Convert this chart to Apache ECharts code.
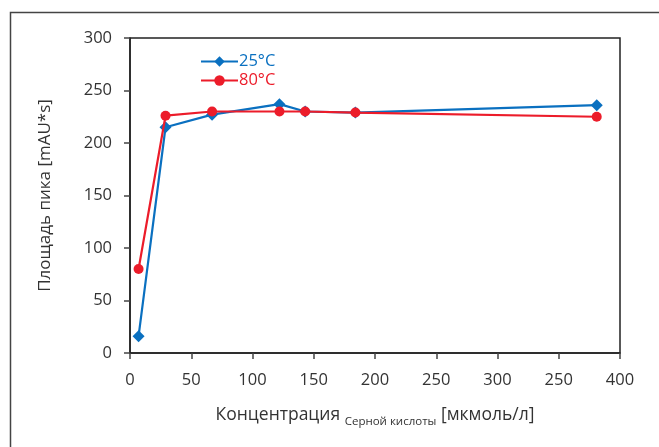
<!DOCTYPE html>
<html>
<head>
<meta charset="utf-8">
<script src="https://cdn.jsdelivr.net/npm/echarts@6/dist/echarts.min.js"></script>
<style>
  html, body { margin: 0; padding: 0; background: #fff; }
  #chart { width: 659px; height: 447px; }
</style>
</head>
<body>
<div id="chart"></div>
<script>
// концентрация серной кислоты, мкмоль/л
var conc25 = [7, 29, 67, 122, 143, 184, 381];
var area25 = [16, 215, 227, 237, 230, 229, 236];
var conc80 = [7, 29, 67, 122, 143, 184, 381];
var area80 = [80, 226, 230, 230, 230, 229, 225];
// подписи оси X как в оригинале (с опечаткой "250" вместо 350)
var xTickLabels = ["0", "50", "100", "150", "200", "250", "300", "250", "400"];

var blue = "#0a70c0";
var red = "#ec1c2a";
var font = "Open Sans";

function pairs(xs, ys) {
  var out = [];
  for (var i = 0; i < xs.length; i++) out.push([xs[i], ys[i]]);
  return out;
}

var myChart = echarts.init(document.getElementById("chart"));
myChart.setOption({
  animation: false,
  textStyle: { fontFamily: font },
  grid: {
    left: 130, right: 39, top: 38, bottom: 94,
    show: true, borderColor: "#222", borderWidth: 1.5
  },
  graphic: [{
    type: "rect",
    shape: { x: 10.5, y: 12.5, width: 800, height: 600 },
    style: { fill: "none", stroke: "#444", lineWidth: 1.5 },
    silent: true
  }],
  legend: {
    orient: "vertical",
    left: 195, top: 48,
    itemWidth: 37, itemHeight: 13, itemGap: 2,
    textStyle: { fontSize: 16.5, fontFamily: font, padding: [0, 0, 0, -4] },
    data: [
      { name: "25°C", textStyle: { color: blue } },
      { name: "80°C", textStyle: { color: red } }
    ]
  },
  xAxis: {
    type: "value",
    min: 0, max: 400, interval: 50,
    axisLine: { show: true, lineStyle: { color: "#222", width: 1.5 } },
    axisTick: { show: true, length: 6, lineStyle: { color: "#444", width: 1.5 } },
    splitLine: { show: false },
    axisLabel: {
      color: "#333", fontSize: 16.5, margin: 19,
      formatter: function (v) { return xTickLabels[Math.round(v / 50)]; }
    },
    name: "{a|Концентрация }{b|Серной кислоты}{a| [мкмоль/л]}",
    nameLocation: "middle",
    nameGap: 49,
    nameTextStyle: {
      rich: {
        a: { fontSize: 17.5, color: "#333", fontFamily: font, verticalAlign: "bottom", lineHeight: 22 },
        b: { fontSize: 11.5, color: "#333", fontFamily: font, verticalAlign: "bottom", lineHeight: 15, padding: [0, 0, -4, 0] }
      }
    }
  },
  yAxis: {
    type: "value",
    min: 0, max: 300, interval: 50,
    axisLine: { show: true, lineStyle: { color: "#222", width: 1.5 } },
    axisTick: { show: true, length: 6, lineStyle: { color: "#444", width: 1.5 } },
    splitLine: { show: false },
    axisLabel: { color: "#333", fontSize: 16.5, margin: 18 },
    name: "Площадь пика [mAU*s]",
    nameLocation: "middle",
    nameGap: 76,
    nameTextStyle: { fontSize: 17, color: "#333", fontFamily: font }
  },
  series: [
    {
      name: "25°C",
      type: "line",
      data: pairs(conc25, area25),
      symbol: "diamond",
      symbolSize: 12,
      itemStyle: { color: blue },
      lineStyle: { color: blue, width: 2.2 },
      z: 3
    },
    {
      name: "80°C",
      type: "line",
      data: pairs(conc80, area80),
      symbol: "circle",
      symbolSize: 10,
      itemStyle: { color: red },
      lineStyle: { color: red, width: 2.2 },
      z: 4
    }
  ]
});
</script>
</body>
</html>
